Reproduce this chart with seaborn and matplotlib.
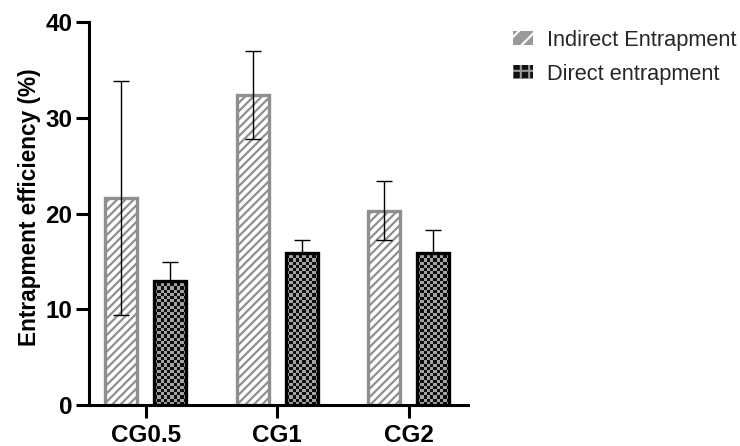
import numpy as np
import pandas as pd
import matplotlib
matplotlib.use("Agg")
import matplotlib.pyplot as plt
from matplotlib.colors import ListedColormap
from matplotlib.patches import Patch, Rectangle
import seaborn as sns

# ---- data ----
categories = ["CG0.5", "CG1", "CG2"]
series_names = ["Indirect Entrapment", "Direct entrapment"]
indirect_values = [21.6, 32.4, 20.3]
indirect_err = [12.2, 4.6, 3.1]
direct_values = [13.0, 15.9, 15.9]
direct_err = [1.9, 1.3, 2.4]
y_ticks = [0, 10, 20, 30, 40]

sns.set_theme(style="white")
plt.rcParams["font.family"] = ["Liberation Sans", "DejaVu Sans"]
plt.rcParams["hatch.linewidth"] = 1.6

df = pd.DataFrame({
    "Group": categories * 2,
    "Series": [series_names[0]] * 3 + [series_names[1]] * 3,
    "Value": indirect_values + direct_values,
})

fig = plt.figure(figsize=(7.4, 4.46), dpi=100)
ax = fig.add_axes([0.1203, 0.0919, 0.632 - 0.1203, 0.9507 - 0.0919])

GRAY = "#8f8f8f"
sns.barplot(data=df, x="Group", y="Value", hue="Series", order=categories,
            hue_order=series_names, width=0.744, gap=0.345, errorbar=None,
            palette=["white", "#a0a0a0"], ax=ax, legend=False)

ax.set_xlim(-0.433, 2.448)
ax.set_ylim(0, 40)

ind_bars, dir_bars = ax.containers[0], ax.containers[1]
for b in ind_bars:
    b.set_facecolor("white")
    b.set_edgecolor(GRAY)
    b.set_hatch("////")
    b.set_linewidth(2.4)
    b.set_zorder(2)

for b in dir_bars:
    b.set_facecolor("#a0a0a0")
    b.set_edgecolor("black")
    b.set_linewidth(0)
    b.set_zorder(4)

# error bars
for bars, errs in ((ind_bars, indirect_err), (dir_bars, direct_err)):
    xs = [b.get_x() + b.get_width() / 2 for b in bars]
    hs = [b.get_height() for b in bars]
    ax.errorbar(xs, hs, yerr=errs, fmt="none", ecolor="black",
                elinewidth=1.0, capsize=6, capthick=1.0, zorder=3)

# checkerboard fill for direct bars
fig.canvas.draw()
cmap = ListedColormap(["#0d0d0d", "#a3a3a3"])
for b in dir_bars:
    x0, w, h = b.get_x(), b.get_width(), b.get_height()
    p0 = ax.transData.transform((x0, 0))
    p1 = ax.transData.transform((x0 + w, h))
    ncol = max(1, int(round(abs(p1[0] - p0[0]) / 3.2)))
    nrow = max(1, int(round(abs(p1[1] - p0[1]) / 3.2)))
    ii, jj = np.indices((nrow, ncol))
    arr = (ii + jj) % 2
    im = ax.imshow(arr, extent=(x0, x0 + w, 0, h), origin="lower",
                   aspect="auto", interpolation="nearest", cmap=cmap,
                   zorder=4.5)
    im.set_clip_path(b)
    ax.add_patch(Rectangle((x0, 0), w, h, facecolor="none",
                           edgecolor="black", linewidth=2.4, zorder=5))

ax.set_xlim(-0.433, 2.448)
ax.set_ylim(0, 40)
ax.set_aspect("auto")

# axes styling
for s in ["top", "right"]:
    ax.spines[s].set_visible(False)
for s in ["left", "bottom"]:
    ax.spines[s].set_linewidth(2.2)
    ax.spines[s].set_color("black")
ax.set_yticks(y_ticks)
ax.tick_params(axis="both", which="major", bottom=True, left=True,
               direction="out", length=9.4, width=2.2,
               color="black", labelsize=17.5, labelcolor="black")
ax.tick_params(axis="y", pad=2.5)
ax.tick_params(axis="x", pad=4)
for lab in ax.get_xticklabels() + ax.get_yticklabels():
    lab.set_fontweight("bold")
ax.set_xlabel("")
ax.set_ylabel("Entrapment efficiency (%)", fontsize=16.3, fontweight="bold",
              color="black")
ax.yaxis.set_label_coords(-0.128, 0.516)

handles = [
    Patch(facecolor="#999999", edgecolor="white", hatch="//", linewidth=0),
    Patch(facecolor="#111111", edgecolor="#9a9a9a", hatch="++", linewidth=0),
]
with plt.rc_context({"hatch.linewidth": 1.5}):
    leg = fig.legend(handles, series_names, loc="upper left",
                     bbox_to_anchor=(0.6928, 0.9332), frameon=False,
                     fontsize=15.7, handlelength=0.92, handleheight=0.64,
                     handletextpad=0.64, labelspacing=0.6,
                     borderpad=0, borderaxespad=0)

fig.savefig("out.png", dpi=100)
